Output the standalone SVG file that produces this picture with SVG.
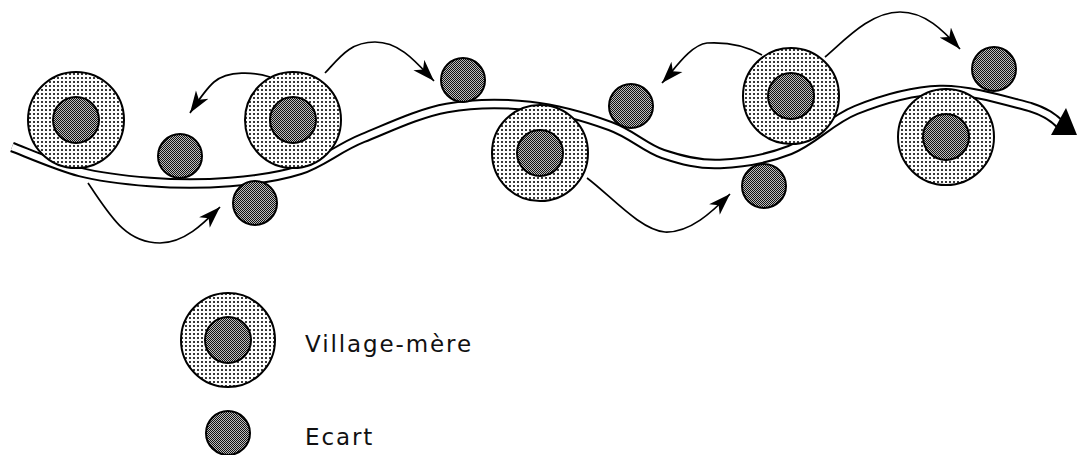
<svg xmlns="http://www.w3.org/2000/svg" width="1077" height="455" viewBox="0 0 1077 455">
  <style>
    .village-ring { fill: url(#ringDots); stroke: #000; stroke-width: 2; }
    .village-core { fill: url(#coreDots); stroke: #000; stroke-width: 2; }
    .ecart { fill: url(#coreDots); stroke: #000; stroke-width: 2; }
    .link { fill: none; stroke: #000; stroke-width: 1.7; marker-end: url(#head); }
    .road-edge { fill: none; stroke: #000; stroke-width: 10.5; }
    .road-inner { fill: none; stroke: #fff; stroke-width: 6.5; }
    .label { font-family: "DejaVu Sans", Verdana, sans-serif; font-size: 23px; letter-spacing: 1.9px; fill: #111; }
  </style>
  <defs>
    <!-- light stipple for the settlement ring -->
    <pattern id="ringDots" width="4" height="4" patternUnits="userSpaceOnUse">
      <rect width="4" height="4" fill="#fff"/>
      <rect x="1" y="1" width="2" height="2" fill="#3a3a3a"/>
    </pattern>
    <!-- darker fine checker for the core / hamlet -->
    <pattern id="coreDots" width="2" height="2" patternUnits="userSpaceOnUse">
      <rect width="2" height="2" fill="#bdbdbd"/>
      <rect x="0" y="0" width="1" height="1" fill="#111"/>
      <rect x="1" y="1" width="1" height="1" fill="#111"/>
    </pattern>
    <marker id="head" markerUnits="userSpaceOnUse" markerWidth="24" markerHeight="16" refX="22" refY="8" orient="auto" viewBox="0 0 24 16">
      <path d="M0,0.5 L22,8 L0,15.5 L6,8 z" fill="#000"/>
    </marker>
  </defs>

  <!-- double-lined road -->
  <g id="road">
    <path class="road-edge" d="M12,147 C23,151 57,166 80,172 C103,178 125,180 150,182 C175,184 205,184 230,182 C255,180 278,177 300,170 C322,163 338,148 363,138 C388,128 419,113 447,108 C475,103 503,103 530,106 C557,109 588,118 610,126 C632,134 645,148 663,154 C681,160 699,165 720,164 C741,163 767,159 790,150 C813,141 831,120 856,110 C881,100 911,91 940,90 C969,89 1010,102 1030,107 C1046,112 1054,118 1062,126"/>
    <path class="road-inner" d="M12,147 C23,151 57,166 80,172 C103,178 125,180 150,182 C175,184 205,184 230,182 C255,180 278,177 300,170 C322,163 338,148 363,138 C388,128 419,113 447,108 C475,103 503,103 530,106 C557,109 588,118 610,126 C632,134 645,148 663,154 C681,160 699,165 720,164 C741,163 767,159 790,150 C813,141 831,120 856,110 C881,100 911,91 940,90 C969,89 1010,102 1030,107 C1046,112 1054,118 1060,124"/>
    <path d="M1051,135 L1077,135 L1066,108 z" fill="#000"/>
  </g>

  <!-- movements from the villages to their hamlets -->
  <g id="connectors">
    <path class="link" d="M88,183 C110,215 125,243 160,243 C185,243 205,222 220,207"/>
    <path class="link" d="M270,77 C255,72 228,70 214,82 C205,90 198,101 190,113"/>
    <path class="link" d="M325,73 C340,57 350,42 375,42 C400,42 416,62 434,81"/>
    <path class="link" d="M762,55 C745,45 725,42 707,43 C690,45 674,70 662,83"/>
    <path class="link" d="M825,57 C845,40 870,12 900,12 C925,12 943,30 960,49"/>
    <path class="link" d="M587,178 C610,195 640,230 665,232 C690,233 712,212 730,194"/>
  </g>

  <!-- villages -->
  <g id="village-1"><circle class="village-ring" cx="76" cy="120" r="48"/><circle class="village-core" cx="76" cy="120" r="23"/></g>
  <g id="village-2"><circle class="village-ring" cx="293" cy="120" r="48"/><circle class="village-core" cx="293" cy="120" r="23"/></g>
  <g id="village-3"><circle class="village-ring" cx="540" cy="153" r="48"/><circle class="village-core" cx="540" cy="153" r="23"/></g>
  <g id="village-4"><circle class="village-ring" cx="791" cy="96" r="48"/><circle class="village-core" cx="791" cy="96" r="23"/></g>
  <g id="village-5"><circle class="village-ring" cx="946" cy="137" r="48"/><circle class="village-core" cx="946" cy="137" r="23"/></g>

  <!-- hamlets -->
  <g id="ecart-1"><circle class="ecart" cx="180" cy="156" r="22"/></g>
  <g id="ecart-2"><circle class="ecart" cx="255" cy="203" r="22"/></g>
  <g id="ecart-3"><circle class="ecart" cx="463" cy="80" r="22"/></g>
  <g id="ecart-4"><circle class="ecart" cx="631" cy="106" r="22"/></g>
  <g id="ecart-5"><circle class="ecart" cx="764" cy="186" r="22"/></g>
  <g id="ecart-6"><circle class="ecart" cx="994" cy="69" r="22"/></g>

  <!-- legend -->
  <g id="legend-village">
    <circle class="village-ring" cx="228" cy="340" r="47"/>
    <circle class="village-core" cx="228" cy="340" r="23"/>
    <text class="label" x="305" y="352">Village-mère</text>
  </g>
  <g id="legend-ecart">
    <circle class="ecart" cx="228" cy="433" r="22"/>
    <text class="label" x="305" y="445">Ecart</text>
  </g>
</svg>
